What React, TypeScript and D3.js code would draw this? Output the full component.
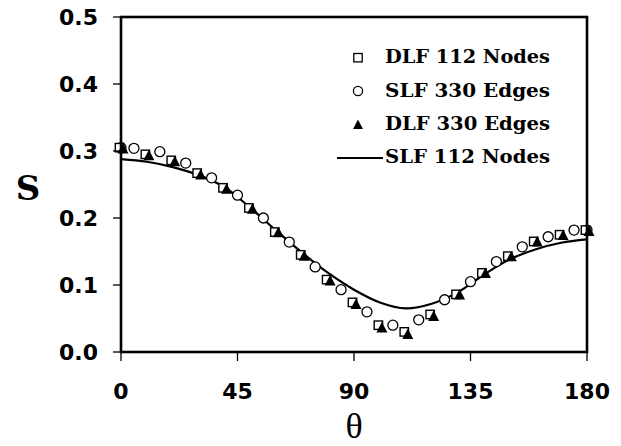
import React from "react";
import * as d3 from "d3";

const xTicks = [0, 45, 90, 135, 180];
const yTicks = [0.0, 0.1, 0.2, 0.3, 0.4, 0.5];

const dlf112X = [0, 10, 20, 30, 40, 50, 60, 70, 80, 90, 100, 110, 120, 130, 140, 150, 160, 170, 180];
const dlf112Y = [0.305, 0.295, 0.286, 0.267, 0.245, 0.215, 0.179, 0.145, 0.108, 0.074, 0.040, 0.030, 0.056, 0.086, 0.118, 0.143, 0.165, 0.175, 0.182];

const slf330X = [0, 5, 15, 25, 35, 45, 55, 65, 75, 85, 95, 105, 115, 125, 135, 145, 155, 165, 175, 180];
const slf330Y = [0.305, 0.304, 0.299, 0.282, 0.260, 0.234, 0.200, 0.164, 0.127, 0.093, 0.060, 0.040, 0.048, 0.078, 0.105, 0.135, 0.157, 0.172, 0.182, 0.182];

const dlf330X = [0, 10, 20, 30, 40, 50, 60, 70, 80, 90, 100, 110, 120, 130, 140, 150, 160, 170, 180];
const dlf330Y = [0.303, 0.293, 0.284, 0.264, 0.243, 0.213, 0.178, 0.143, 0.106, 0.071, 0.036, 0.026, 0.053, 0.085, 0.117, 0.142, 0.164, 0.174, 0.180];

const slf112X = [0, 10, 20, 30, 40, 50, 60, 70, 80, 90, 100, 110, 120, 130, 140, 150, 160, 170, 180];
const slf112Y = [0.288, 0.284, 0.276, 0.264, 0.246, 0.215, 0.181, 0.148, 0.118, 0.093, 0.074, 0.065, 0.072, 0.089, 0.115, 0.138, 0.153, 0.163, 0.168];

const legendLabels = ["DLF 112 Nodes", "SLF 330 Edges", "DLF 330 Edges", "SLF 112 Nodes"];

const W = 621;
const H = 446;
const left = 121;
const right = 587;
const top = 17;
const bottom = 352;

export default function App() {
  const x = d3.scaleLinear().domain([0, 180]).range([left, right]);
  const y = d3.scaleLinear().domain([0, 0.5]).range([bottom, top]);

  const line = d3
    .line<number>()
    .x((_, i) => x(slf112X[i]))
    .y((d) => y(d))
    .curve(d3.curveCatmullRom);

  const tri = (cx: number, cy: number, s: number) =>
    `M${cx},${cy - s * 0.6}L${cx + s * 0.55},${cy + s * 0.45}L${cx - s * 0.55},${cy + s * 0.45}Z`;

  const tickFont = "'DejaVu Sans', Verdana, sans-serif";
  const serif = "'DejaVu Serif', serif";

  const legendX = 358;
  const legendTextX = 385;
  const legendBase = [63, 97, 130, 163];

  return (
    <svg
      width={W}
      height={H}
      style={{ position: "absolute", left: 0, top: 0, background: "#fff" }}
    >
      <rect x={0} y={0} width={W} height={H} fill="#fff" />
      {/* line series */}
      <path d={line(slf112Y) || ""} fill="none" stroke="#000" strokeWidth={2.2} />
      {/* circles */}
      {slf330Y.map((v, i) => (
        <circle
          key={"c" + i}
          cx={x(slf330X[i])}
          cy={y(v)}
          r={5}
          fill="#fff"
          stroke="#000"
          strokeWidth={1.3}
        />
      ))}
      {/* squares */}
      {dlf112Y.map((v, i) => (
        <rect
          key={"s" + i}
          x={x(dlf112X[i]) - 1.5 - 4.2}
          y={y(v) - 4.2}
          width={8.4}
          height={8.4}
          fill="#fff"
          stroke="#000"
          strokeWidth={1.4}
        />
      ))}
      {/* triangles */}
      {dlf330Y.map((v, i) => (
        <path key={"t" + i} d={tri(x(dlf330X[i]) + 2, y(v), 10)} fill="#000" />
      ))}

      {/* frame */}
      <rect
        x={left}
        y={top}
        width={right - left}
        height={bottom - top}
        fill="none"
        stroke="#000"
        strokeWidth={2.6}
      />
      {/* y ticks */}
      {yTicks.map((t) => (
        <g key={"yt" + t}>
          <line x1={left - 8} x2={left} y1={y(t)} y2={y(t)} stroke="#000" strokeWidth={1.3} />
          <text
            x={98}
            y={y(t)}
            textAnchor="end"
            dominantBaseline="central"
            fontFamily={tickFont}
            fontWeight="bold"
            fontSize={22}
            fill="#000"
          >
            {t.toFixed(1)}
          </text>
        </g>
      ))}
      {/* x ticks */}
      {xTicks.map((t) => (
        <g key={"xt" + t}>
          <line x1={x(t)} x2={x(t)} y1={bottom} y2={bottom + 9} stroke="#000" strokeWidth={1.3} />
          <text
            x={x(t)}
            y={391}
            textAnchor="middle"
            dominantBaseline="central"
            fontFamily={tickFont}
            fontWeight="bold"
            fontSize={22}
            fill="#000"
          >
            {t}
          </text>
        </g>
      ))}
      {/* axis titles */}
      <text
        x={28}
        y={188}
        textAnchor="middle"
        dominantBaseline="central"
        fontFamily={serif}
        fontWeight="bold"
        fontSize={34}
        fill="#000"
      >
        S
      </text>
      <text
        x={354}
        y={438}
        textAnchor="middle"
        fontFamily="'Liberation Serif', 'Times New Roman', serif"
        fontSize={36}
        fill="#000"
      >
        θ
      </text>

      {/* legend */}
      <rect
        x={legendX - 4.2}
        y={57.7 - 4.2}
        width={8.4}
        height={8.4}
        fill="#fff"
        stroke="#000"
        strokeWidth={1.3}
      />
      <circle cx={legendX} cy={91} r={4.6} fill="#fff" stroke="#000" strokeWidth={1.3} />
      <path d={tri(legendX, 125, 9)} fill="#000" />
      <line x1={337} x2={383} y1={158} y2={158} stroke="#000" strokeWidth={2.2} />
      {legendLabels.map((l, i) => (
        <text
          key={l}
          x={legendTextX}
          y={legendBase[i]}
          fontFamily={serif}
          fontWeight="bold"
          fontSize={18}
          textLength={165}
          lengthAdjust="spacingAndGlyphs"
          fill="#000"
        >
          {l}
        </text>
      ))}
    </svg>
  );
}
